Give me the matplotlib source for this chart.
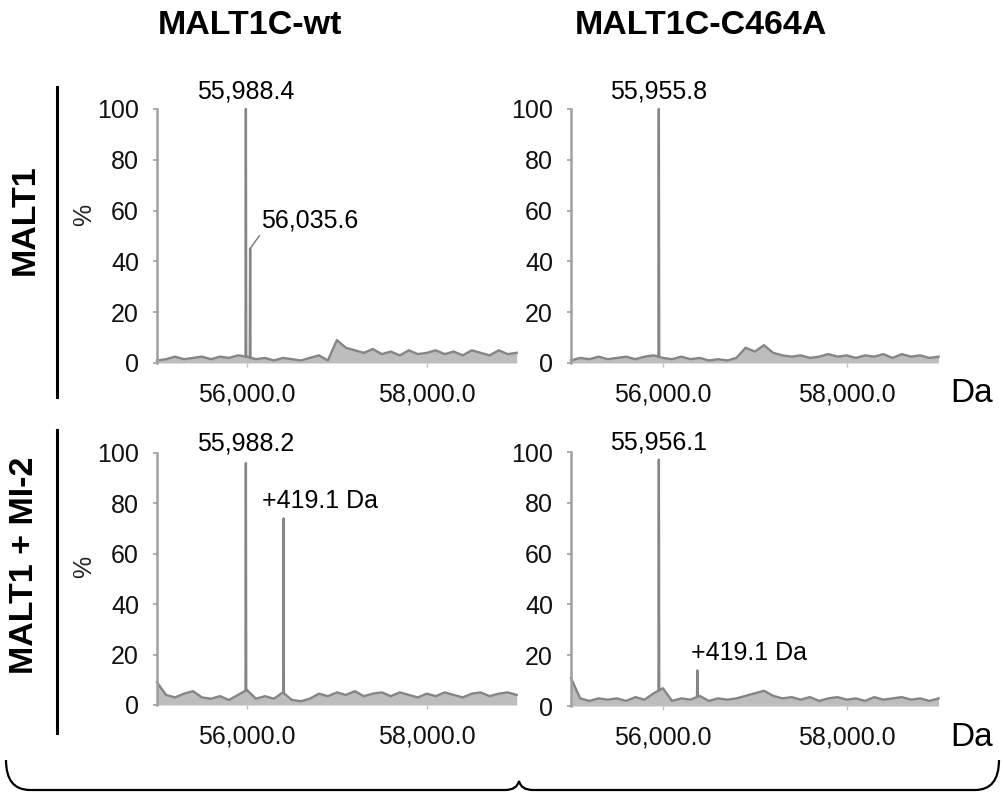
import numpy as np
import matplotlib
matplotlib.use("Agg")
import matplotlib.pyplot as plt
from matplotlib.path import Path
from matplotlib.patches import PathPatch

plt.rcParams['font.family'] = ['Liberation Sans', 'DejaVu Sans']

# ---------------- data ----------------
column_titles = ["MALT1C-wt", "MALT1C-C464A"]
row_titles = ["MALT1", "MALT1 + MI-2"]
x_ticks = [56000, 58000]
x_tick_labels = ["56,000.0", "58,000.0"]
y_ticks = [0, 20, 40, 60, 80, 100]
adduct_shift = 419.1  # Da, MI-2 adduct

mass_grid = [55000, 55100, 55200, 55300, 55400, 55500, 55600, 55700, 55800, 55900,
             56000, 56100, 56200, 56300, 56400, 56500, 56600, 56700, 56800, 56900,
             57000, 57100, 57200, 57300, 57400, 57500, 57600, 57700, 57800, 57900,
             58000, 58100, 58200, 58300, 58400, 58500, 58600, 58700, 58800, 58900,
             59000]

# baseline intensity (%) of each deconvoluted spectrum on mass_grid
wt_base = [1.0, 1.5, 2.5, 1.5, 2.0, 2.5, 1.5, 2.5, 2.0, 3.0,
           2.5, 1.5, 2.0, 1.0, 2.0, 1.5, 1.0, 2.0, 3.0, 1.0,
           9.0, 6.0, 5.0, 4.0, 5.5, 3.5, 4.5, 3.0, 5.0, 3.5,
           4.0, 5.0, 3.5, 4.5, 3.0, 5.0, 4.0, 3.0, 5.0, 3.5, 4.0]
mut_base = [1.0, 2.0, 1.5, 2.5, 1.5, 2.0, 2.5, 1.5, 2.5, 3.0,
            2.0, 1.5, 2.5, 1.5, 2.0, 1.0, 1.5, 1.0, 2.0, 6.0,
            4.5, 7.0, 4.0, 3.0, 2.5, 3.0, 2.0, 2.5, 3.5, 2.5,
            3.0, 2.0, 3.0, 2.5, 3.5, 2.0, 3.5, 2.5, 3.0, 2.0, 2.5]
wt_mi2_base = [9.0, 4.0, 3.0, 4.5, 5.5, 3.0, 2.5, 3.5, 2.0, 4.0,
               6.0, 2.5, 3.5, 2.5, 5.0, 2.0, 1.5, 2.5, 4.5, 3.5,
               5.0, 4.0, 5.5, 3.5, 4.5, 5.0, 3.5, 5.0, 4.0, 3.0,
               4.5, 3.5, 5.0, 4.0, 3.0, 4.5, 5.0, 3.5, 4.5, 5.0, 4.0]
mut_mi2_base = [11.0, 3.0, 2.0, 3.0, 2.5, 3.0, 2.0, 3.5, 2.5, 5.0,
                7.0, 2.0, 3.0, 2.5, 4.0, 2.0, 3.0, 2.5, 3.0, 4.0,
                5.0, 6.0, 4.0, 3.0, 3.5, 2.5, 3.5, 2.0, 3.0, 3.5,
                2.5, 3.0, 2.0, 3.5, 2.5, 3.0, 3.5, 2.5, 3.0, 2.0, 3.0]

# main protein peaks: mass (Da), relative intensity (%)
wt_main = (55988.4, 100.0)
mut_main = (55955.8, 100.0)
wt_mi2_main = (55988.2, 96.0)
mut_mi2_main = (55956.1, 97.0)

# secondary peaks
wt_side = (56035.6, 45.0)
wt_mi2_adduct_height = 74.0
mut_mi2_adduct_height = 14.0

# ---------------- layout ----------------
W, H = 1004, 793
fig = plt.figure(figsize=(W / 100, H / 100), dpi=100)


def fx(px):
    return px / W


def fy(py):
    return 1 - py / H


def add_panel(left, right, top, bottom):
    return fig.add_axes([fx(left), fy(bottom), fx(right) - fx(left), fy(top) - fy(bottom)])


XLIM = (55000, 59070)
line_color = '#858585'
tick_fs = 18
title_fs = 24.5

panels = {
    (0, 0): add_panel(157, 523, 109, 363),
    (0, 1): add_panel(571, 945, 109, 363),
    (1, 0): add_panel(157, 523, 453, 705),
    (1, 1): add_panel(571, 945, 452, 706),
}


def spectrum(base, peaks, half_width=4.0):
    """Combine a baseline trace with stick-like peaks."""
    m = list(mass_grid)
    y = list(base)
    for pm, ph in peaks:
        b0 = np.interp(pm - half_width, mass_grid, base)
        b1 = np.interp(pm + half_width, mass_grid, base)
        m += [pm - half_width, pm, pm + half_width]
        y += [b0, ph, b1]
    order = np.argsort(m)
    return np.asarray(m)[order], np.asarray(y)[order]


def style(ax, pct_y=None):
    ax.set_xlim(*XLIM)
    ax.set_ylim(0, 100)
    for s in ('top', 'right', 'bottom'):
        ax.spines[s].set_visible(False)
    ax.spines['left'].set_color('#a0a0a0')
    ax.spines['left'].set_linewidth(1.8)
    ax.set_yticks(y_ticks)
    ax.set_yticklabels([str(v) for v in y_ticks])
    ax.set_xticks(x_ticks)
    ax.set_xticklabels(x_tick_labels)
    ax.tick_params(axis='y', length=3, width=1.2, color='#a0a0a0', pad=10,
                   labelsize=tick_fs, labelcolor='#111111')
    ax.tick_params(axis='x', length=3, width=1.0, color='#c0c0c0', pad=11,
                   labelsize=tick_fs, labelcolor='#111111')
    ax.patch.set_alpha(0)
    if pct_y is not None:
        ax.set_ylabel('%', fontsize=18, color='#222222')
        ax.yaxis.set_label_coords(-0.165, pct_y)


def draw(ax, base, peaks):
    m, y = spectrum(base, peaks)
    ax.fill_between(m, 0, np.minimum(y, 12), color='#bdbdbd', lw=0, clip_on=False)
    ax.plot(m, y, color=line_color, lw=1.7, clip_on=False)


# top-left: MALT1C-wt
ax = panels[(0, 0)]
style(ax, pct_y=0.583)
draw(ax, wt_base, [wt_main, wt_side])
ax.annotate(f"{wt_main[0]:,.1f}", xy=wt_main, xytext=(0, 17), textcoords='offset pixels',
            ha='center', va='center', fontsize=tick_fs, annotation_clip=False)
ax.annotate(f"{wt_side[0]:,.1f}", xy=wt_side, xytext=(60, 28), textcoords='offset pixels',
            ha='center', va='center', fontsize=tick_fs, annotation_clip=False,
            arrowprops=dict(arrowstyle='-', color='#777777', lw=1.0,
                            relpos=(0.0, 0.0), shrinkA=0, shrinkB=0))

# top-right: MALT1C-C464A
ax = panels[(0, 1)]
style(ax)
draw(ax, mut_base, [mut_main])
ax.annotate(f"{mut_main[0]:,.1f}", xy=mut_main, xytext=(0, 17), textcoords='offset pixels',
            ha='center', va='center', fontsize=tick_fs, annotation_clip=False)

# bottom-left: MALT1C-wt + MI-2
ax = panels[(1, 0)]
style(ax, pct_y=0.548)
wt_adduct = (wt_mi2_main[0] + adduct_shift, wt_mi2_adduct_height)
draw(ax, wt_mi2_base, [wt_mi2_main, wt_adduct])
ax.annotate(f"{wt_mi2_main[0]:,.1f}", xy=wt_mi2_main, xytext=(0, 20), textcoords='offset pixels',
            ha='center', va='center', fontsize=tick_fs, annotation_clip=False)
ax.annotate(f"+{adduct_shift} Da", xy=wt_adduct, xytext=(36, 18), textcoords='offset pixels',
            ha='center', va='center', fontsize=tick_fs, annotation_clip=False)

# bottom-right: MALT1C-C464A + MI-2
ax = panels[(1, 1)]
style(ax)
mut_adduct = (mut_mi2_main[0] + adduct_shift, mut_mi2_adduct_height)
draw(ax, mut_mi2_base, [mut_mi2_main, mut_adduct])
ax.annotate(f"{mut_mi2_main[0]:,.1f}", xy=mut_mi2_main, xytext=(0, 17), textcoords='offset pixels',
            ha='center', va='center', fontsize=tick_fs, annotation_clip=False)
ax.annotate(f"+{adduct_shift} Da", xy=mut_adduct, xytext=(52, 17), textcoords='offset pixels',
            ha='center', va='center', fontsize=tick_fs, annotation_clip=False)

# column titles
fig.text(fx(250), fy(25), column_titles[0], ha='center', va='center',
         fontsize=title_fs, fontweight='bold')
fig.text(fx(701), fy(25), column_titles[1], ha='center', va='center',
         fontsize=title_fs, fontweight='bold')

# row titles with separating bars
fig.text(fx(25), fy(220), row_titles[0], ha='center', va='center', rotation=90,
         fontsize=title_fs, fontweight='bold')
fig.text(fx(25), fy(565), row_titles[1], ha='center', va='center', rotation=90,
         fontsize=title_fs, fontweight='bold')
for y0, y1 in [(87, 397), (430, 733)]:
    fig.add_artist(plt.Line2D([fx(57), fx(57)], [fy(y0), fy(y1)],
                              color='black', lw=2.2, transform=fig.transFigure))

# mass unit labels
for yy in (393, 737):
    fig.text(fx(972), fy(yy), "Da", ha='center', va='center', fontsize=24)

# bottom brace spanning both columns
pts = [(6, 760), (6, 790), (30, 790),
       (505, 790),
       (517, 790), (519, 781),
       (521, 790), (533, 790),
       (975, 790),
       (999, 790), (999, 760)]
codes = [Path.MOVETO, Path.CURVE3, Path.CURVE3,
         Path.LINETO,
         Path.CURVE3, Path.CURVE3,
         Path.CURVE3, Path.CURVE3,
         Path.LINETO,
         Path.CURVE3, Path.CURVE3]
brace = Path([(fx(a), fy(b)) for a, b in pts], codes)
fig.add_artist(PathPatch(brace, facecolor='none', edgecolor='black', lw=1.6,
                         transform=fig.transFigure))

fig.savefig("out.png", dpi=100)
